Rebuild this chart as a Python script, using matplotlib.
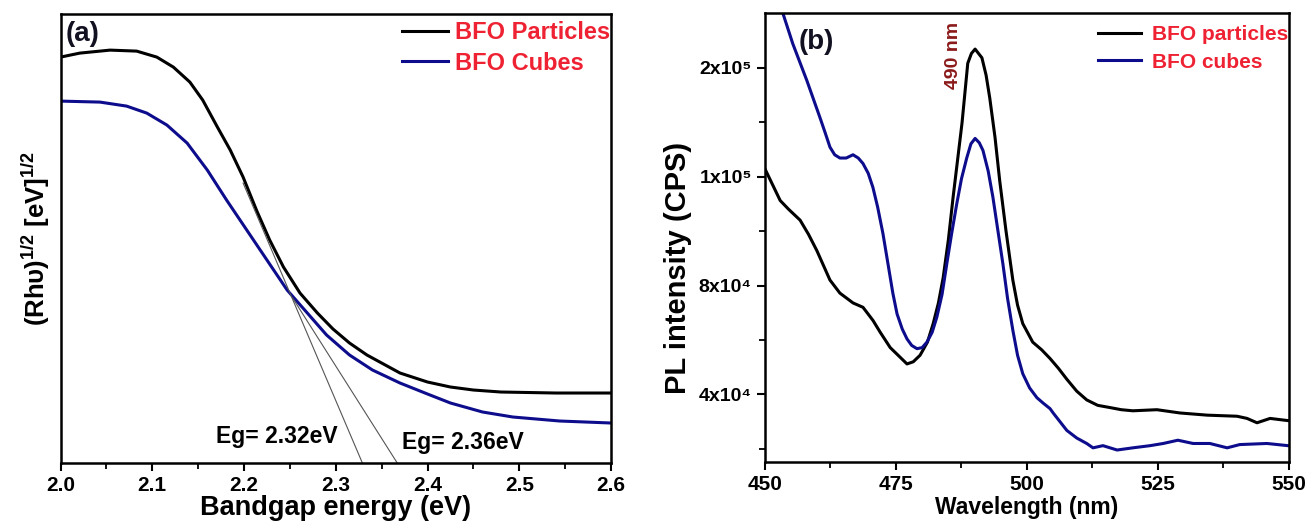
import numpy as np
import matplotlib
matplotlib.use('Agg')
import matplotlib.pyplot as plt

plt.rcParams['font.family'] = ['Liberation Sans', 'DejaVu Sans']
plt.rcParams['font.weight'] = 'bold'
plt.rcParams['mathtext.fontset'] = 'custom'
plt.rcParams['mathtext.rm'] = 'Liberation Sans:bold'
plt.rcParams['mathtext.bf'] = 'Liberation Sans:bold'
plt.rcParams['mathtext.default'] = 'bf'

# (a) bandgap data, y in arbitrary units
energy_p = [2.000, 2.021, 2.054, 2.083, 2.105, 2.123, 2.141, 2.155, 2.171, 2.185, 2.199,
            2.214, 2.228, 2.243, 2.261, 2.280, 2.297, 2.315, 2.334, 2.352, 2.370, 2.400,
            2.425, 2.450, 2.480, 2.540, 2.600]
rhv_particles = [406, 410, 413, 412, 406, 396, 381, 363, 336, 313, 286,
                 252, 223, 196, 170, 150, 134, 120, 108, 99, 90, 81,
                 76, 73, 71, 70, 70]
energy_c = [2.000, 2.043, 2.072, 2.094, 2.116, 2.138, 2.160, 2.181, 2.203, 2.225, 2.247,
            2.269, 2.290, 2.315, 2.340, 2.370, 2.400, 2.425, 2.460, 2.493, 2.544, 2.600]
rhv_cubes = [362, 361, 357, 350, 338, 320, 293, 263, 233, 203, 173,
             150, 128, 108, 93, 80, 69, 60, 51, 46, 42, 40]
tangent_p_x = [2.199, 2.329]
tangent_p_y = [280, 0]
tangent_c_x = [2.253, 2.367]
tangent_c_y = [165, 0]

# (b) PL data, y in tick units (0 -> 4x10^4, 1 -> 8x10^4, 2 -> 1x10^5, 3 -> 2x10^5)
wl_p = [450, 452.9, 454.5, 456.7, 458.3, 459.9, 462.4, 464.3, 466.8, 468.7, 470.6, 472.0,
        473.9, 475.4, 477.1, 478.3, 479.6, 481.0, 482.1, 483.1, 484.0, 485.0, 485.9, 486.8,
        487.6, 488.7, 489.4, 490.1, 491.4, 492.2, 492.9, 493.9, 494.8, 496.0, 497.3, 498.2,
        499.2, 501.1, 502.8, 504.4, 506.0, 507.6, 509.5, 511.4, 513.5, 515.8, 518.0, 520.2,
        524.8, 529.2, 534.4, 540.1, 542.0, 543.9, 546.4, 549.8]
pl_particles = [2.07, 1.78, 1.70, 1.60, 1.47, 1.32, 1.05, 0.93, 0.84, 0.80, 0.68, 0.57,
                0.43, 0.36, 0.28, 0.30, 0.36, 0.48, 0.65, 0.84, 1.07, 1.42, 1.81, 2.17,
                2.49, 3.04, 3.13, 3.17, 3.09, 2.93, 2.72, 2.36, 1.96, 1.50, 1.05, 0.82,
                0.65, 0.48, 0.41, 0.33, 0.24, 0.14, 0.03, -0.05, -0.10, -0.12, -0.14, -0.15,
                -0.14, -0.17, -0.19, -0.20, -0.22, -0.26, -0.22, -0.24]
wl_c = [452.6, 455.3, 458.0, 460.5, 461.5, 462.4, 463.3, 464.3, 465.5, 466.8, 467.8, 468.7,
        469.7, 470.6, 471.5, 472.5, 473.4, 474.4, 475.2, 476.2, 477.1, 478.0, 479.0, 480.0,
        480.9, 481.9, 482.8, 483.8, 484.7, 485.6, 486.6, 487.5, 488.5, 489.3, 490.1, 490.9,
        491.6, 492.6, 493.5, 494.4, 495.4, 496.3, 497.3, 498.2, 499.2, 500.5, 501.9, 503.1,
        504.4, 505.0, 506.3, 507.6, 509.5, 511.4, 512.6, 514.5, 517.2, 520.2, 523.5, 526.0,
        528.8, 531.7, 534.9, 538.2, 540.6, 545.8, 549.8]
pl_cubes = [3.62, 3.22, 2.88, 2.54, 2.40, 2.27, 2.20, 2.17, 2.17, 2.20, 2.17, 2.12,
            2.03, 1.90, 1.72, 1.48, 1.22, 0.93, 0.74, 0.60, 0.51, 0.45, 0.42, 0.43,
            0.48, 0.57, 0.71, 0.92, 1.20, 1.47, 1.75, 1.98, 2.17, 2.30, 2.35, 2.31,
            2.24, 2.05, 1.81, 1.52, 1.20, 0.88, 0.59, 0.36, 0.19, 0.06, -0.03, -0.08,
            -0.13, -0.17, -0.25, -0.33, -0.40, -0.45, -0.49, -0.47, -0.51, -0.49, -0.47, -0.45,
            -0.42, -0.45, -0.45, -0.49, -0.46, -0.45, -0.47]
pl_tick_pos = [0, 1, 2, 3]
pl_tick_labels = ['4x10\u2074', '8x10\u2074', '1x10\u2075', '2x10\u2075']

blue = '#0c0c8c'
red = '#ee2233'

fig = plt.figure(figsize=(13.07, 5.25), dpi=100)
ax1 = fig.add_axes([0.0463, 0.1181, 0.4212, 0.855])
ax2 = fig.add_axes([0.5853, 0.12, 0.4009, 0.855])

# ---- panel (a)
ax1.plot(energy_p, rhv_particles, color='black', lw=2.2, label='BFO Particles')
ax1.plot(energy_c, rhv_cubes, color=blue, lw=2.2, label='BFO Cubes')
ax1.plot(tangent_p_x, tangent_p_y, color='#555555', lw=0.8)
ax1.plot(tangent_c_x, tangent_c_y, color='#555555', lw=0.8)
ax1.set_xlim(2.0, 2.6)
ax1.set_ylim(0, 449)
ax1.set_xticks(np.arange(2.0, 2.61, 0.1))
ax1.set_xticks(np.arange(2.05, 2.6, 0.1), minor=True)
ax1.set_yticks([])
ax1.set_xlabel('Bandgap energy (eV)', fontsize=19.5, fontweight='bold', labelpad=0)
ax1.set_ylabel('(Rh\u03c5)$^{1/2}$ [eV]$^{1/2}$', fontsize=18.5, fontweight='bold', labelpad=6)
ax1.text(0.01, 0.985, '(a)', transform=ax1.transAxes, fontsize=20, fontweight='bold',
         color='#111122', va='top', ha='left')
ax1.text(2.170, 27, 'Eg= 2.32eV', fontsize=16.5, fontweight='bold', va='center')
ax1.text(2.372, 21, 'Eg= 2.36eV', fontsize=16.5, fontweight='bold', va='center')
ax1.legend(loc='upper right', bbox_to_anchor=(1.0, 0.987), frameon=False, handlelength=1.95,
           handletextpad=0.3, labelspacing=0.32, borderaxespad=0, borderpad=0.05,
           labelcolor=red, prop={'weight': 'bold', 'size': 17})

# ---- panel (b)
ax2.plot(wl_p, pl_particles, color='black', lw=2.2, label='BFO particles')
ax2.plot(wl_c, pl_cubes, color=blue, lw=2.2, label='BFO cubes')
ax2.set_xlim(450, 550)
ax2.set_ylim(-0.62, 3.5)
ax2.set_xticks([450, 475, 500, 525, 550])
ax2.set_xticks([462.5, 487.5, 512.5, 537.5], minor=True)
ax2.set_yticks(pl_tick_pos)
ax2.set_yticklabels(pl_tick_labels)
ax2.set_yticks([-0.5, 0.5, 1.5, 2.5], minor=True)
ax2.set_xlabel('Wavelength (nm)', fontsize=16.5, fontweight='bold', labelpad=1)
ax2.set_ylabel('PL intensity (CPS)', fontsize=21, fontweight='bold')
ax2.yaxis.set_label_coords(-0.14, 0.432)
ax2.text(0.065, 0.965, '(b)', transform=ax2.transAxes, fontsize=20, fontweight='bold',
         color='#111122', va='top', ha='left')
ax2.text(485.9, 3.11, '490 nm', rotation=90, fontsize=14, fontweight='bold',
         color='#8b1a1a', ha='center', va='center')
ax2.legend(loc='upper right', bbox_to_anchor=(1.0, 0.975), frameon=False, handlelength=2.1,
           handletextpad=0.5, labelspacing=0.4, borderaxespad=0, borderpad=0.05,
           labelcolor=red, prop={'weight': 'bold', 'size': 15})

for ax in (ax1, ax2):
    for s in ax.spines.values():
        s.set_linewidth(1.8)
    ax.tick_params(which='major', direction='out', length=6, width=1.5, labelsize=15)
    ax.tick_params(which='minor', direction='out', length=4, width=1.3)
    for lab in ax.get_xticklabels() + ax.get_yticklabels():
        lab.set_fontweight('bold')
ax2.tick_params(axis='y', labelsize=14)

fig.savefig('out.png', dpi=100)
